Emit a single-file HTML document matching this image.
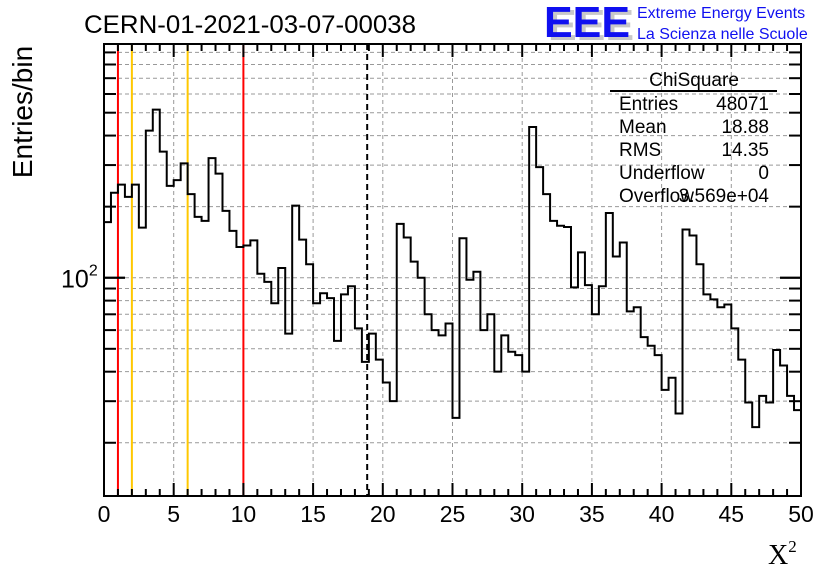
<!DOCTYPE html>
<html><head><meta charset="utf-8"><style>
html,body{margin:0;padding:0;background:#fff;}
svg{display:block;font-family:"Liberation Sans",sans-serif;}
</style></head><body>
<svg id="chart" width="836" height="572" viewBox="0 0 836 572" xmlns="http://www.w3.org/2000/svg">
<rect width="836" height="572" fill="#fff"/>
<g id="grid"></g>
<g id="vlines"></g>
<path id="hist" fill="none" stroke="#000" stroke-width="2"/>
<g id="axes"></g>
<text x="84" y="33" font-size="25" textLength="332" lengthAdjust="spacingAndGlyphs">CERN-01-2021-03-07-00038</text>
<g>
<text x="548" y="40" font-size="44" font-weight="bold" fill="#c8c8c8" textLength="86" lengthAdjust="spacingAndGlyphs">EEE</text>
<text x="544" y="37" font-size="44" font-weight="bold" fill="#1010f0" textLength="86" lengthAdjust="spacingAndGlyphs">EEE</text>
<text x="637" y="18" font-size="16" fill="#1010f0">Extreme Energy Events</text>
<text x="637" y="39" font-size="16" fill="#1010f0">La Scienza nelle Scuole</text>
</g>
<g font-size="19">
<text x="694" y="86" text-anchor="middle">ChiSquare</text>
<line x1="610" y1="91" x2="777" y2="91" stroke="#000" stroke-width="2"/>
<text x="619" y="110">Entries</text><text x="769" y="110" text-anchor="end">48071</text>
<text x="619" y="133">Mean</text><text x="769" y="133" text-anchor="end">18.88</text>
<text x="619" y="156">RMS</text><text x="769" y="156" text-anchor="end">14.35</text>
<text x="619" y="179">Underflow</text><text x="769" y="179" text-anchor="end">0</text>
<text x="619" y="202">Overflow</text><text x="769" y="202" text-anchor="end">3.569e+04</text>
</g>
<text transform="translate(32,112) rotate(-90)" text-anchor="middle" font-size="28">Entries/bin</text>
<text x="768" y="564" font-family="'Liberation Serif',serif" font-size="28">X<tspan font-size="17" dy="-12">2</tspan></text>
</svg>
<script>
const counts = [172,229,248,220,248,163,420,515,342,245,259,305,226,181,174,321,276,192,158,135,
137,144,104,96,78,110,58,202,145,114,78,86,82,54,85,92,61,44,58,45,
36,30,169,148,117,100,70,60,57,64,25.5,147,98,106,60,70,40,57,48.6,47,
40,435,294,226,174,166,164,91,128,93,70,92,188,123,141,72,75,56,51.5,47,
33.5,37.7,26.6,160,151,114,85,81,75,77,61,45,29.6,23.3,31.6,29.6,49.4,42.5,31.6,27.5];
const xTicks = [0,5,10,15,20,25,30,35,40,45,50];
const markerRed = [1,10];
const markerOrange = [2,6];
const meanValue = [18.88];
const binWidth = 0.5;

const L=104,R=801,T=44,B=496;
const xMin=0,xMax=50,yMin=11.9,yMax=977;
const X=v=>L+(v-xMin)/(xMax-xMin)*(R-L);
const lyMin=Math.log10(yMin),lyMax=Math.log10(yMax);
const Y=v=>B-(Math.log10(v)-lyMin)/(lyMax-lyMin)*(B-T);
const NS="http://www.w3.org/2000/svg";
function mk(tag,parent,attrs){const e=document.createElementNS(NS,tag);for(const k in attrs)e.setAttribute(k,attrs[k]);parent.appendChild(e);return e;}

const grid=document.getElementById('grid');
xTicks.forEach(t=>{if(t>xMin&&t<xMax){const l=mk('line',grid,{x1:X(t),x2:X(t),y1:T,y2:B,stroke:'#999','stroke-dasharray':'4,3','stroke-width':1});

}});
const yGridVals=[];
for(let d=10;d<=1000;d*=10)for(let m=1;m<10;m++){const v=m*d;if(v>yMin&&v<yMax)yGridVals.push(v);}
yGridVals.forEach(v=>{const l=mk('line',grid,{x1:L,x2:R,y1:Y(v),y2:Y(v),stroke:'#999','stroke-dasharray':'4,3','stroke-width':1});

});

const vl=document.getElementById('vlines');
markerRed.forEach(v=>{const l=mk('line',vl,{x1:X(v),x2:X(v),y1:T,y2:B,stroke:'#f00','stroke-width':2});

});
markerOrange.forEach(v=>{const l=mk('line',vl,{x1:X(v),x2:X(v),y1:T,y2:B,stroke:'#ffc800','stroke-width':2});

});
meanValue.forEach(v=>{const l=mk('line',vl,{x1:X(v),x2:X(v),y1:T,y2:B,stroke:'#000','stroke-width':2,'stroke-dasharray':'6,4'});

});

let d='';
counts.forEach((c,i)=>{const x0=X(i*binWidth),x1=X((i+1)*binWidth),y=Math.min(B,Y(c));
d+=(i===0?'M':'L')+x0+','+y+'L'+x1+','+y;});
document.getElementById('hist').setAttribute('d',d);

const ax=document.getElementById('axes');
const fr=mk('rect',ax,{x:L,y:T,width:R-L,height:B-T,fill:'none',stroke:'#000','stroke-width':2});


for(let v=xMin;v<=xMax;v+=1){const major=v%5===0;const len=major?13:7;
mk('line',ax,{x1:X(v),x2:X(v),y1:B,y2:B-len,stroke:'#000','stroke-width':2});
mk('line',ax,{x1:X(v),x2:X(v),y1:T,y2:T+len,stroke:'#000','stroke-width':2});}
xTicks.forEach(t=>{const tx=mk('text',ax,{x:X(t),y:522,'text-anchor':'middle','font-size':23});tx.textContent=t;

});
yGridVals.concat([100]).forEach(v=>{const len=v===100?21:12;
mk('line',ax,{x1:L,x2:L+len,y1:Y(v),y2:Y(v),stroke:'#000','stroke-width':2});
mk('line',ax,{x1:R,x2:R-len,y1:Y(v),y2:Y(v),stroke:'#000','stroke-width':2});});
const yl=mk('text',ax,{x:61,y:Y(100)+10,'font-size':25});


yl.innerHTML='10<tspan font-size="16" dy="-12">2</tspan>';
</script>
</body></html>
